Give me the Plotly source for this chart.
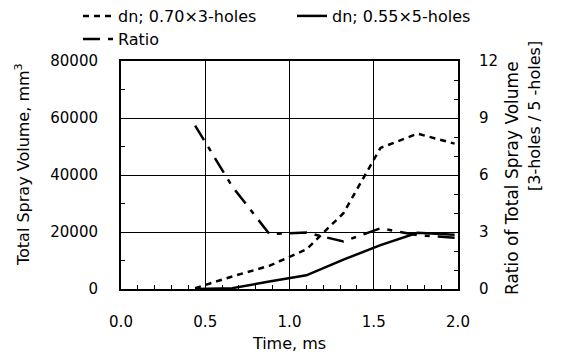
import plotly.graph_objects as go

time_ms = [0.44, 0.66, 0.88, 1.10, 1.32, 1.54, 1.76, 1.98]
vol_3holes = [300, 4400, 8150, 13900, 26600, 49500, 54500, 51000]
vol_5holes = [0, 300, 2600, 4800, 10300, 15400, 19700, 19000]
ratio = [8.6, 5.4, 2.9, 2.97, 2.5, 3.2, 2.83, 2.7]

name_3 = "dn; 0.70×3-holes"
name_5 = "dn; 0.55×5-holes"
name_r = "Ratio"

FONT = "DejaVu Sans"
L, R, T, B = 121, 104, 61, 69
W, H = 562, 358
PW, PH = W - L - R, H - T - B


def px_x(px):
    return (px - L) / PW


def px_y(py):
    return (H - B - py) / PH


def cx(px):
    return px / W


def cy(py):
    return 1 - py / H


fig = go.Figure()
fig.add_trace(go.Scatter(x=time_ms, y=vol_3holes, name=name_3, mode="lines",
                         line=dict(color="black", width=2.5, dash="6px,5px"),
                         legend="legend"))
fig.add_trace(go.Scatter(x=time_ms, y=vol_5holes, name=name_5, mode="lines",
                         line=dict(color="black", width=2.5),
                         legend="legend2"))
fig.add_trace(go.Scatter(x=time_ms, y=ratio, name=name_r, mode="lines", yaxis="y2",
                         line=dict(color="black", width=2.5, dash="17px,8px,5px,8px"),
                         legend="legend3"))

legend_common = dict(font=dict(family=FONT, size=16, color="black"),
                     bgcolor="rgba(0,0,0,0)", xanchor="left", yanchor="middle",
                     orientation="h", xref="container", yref="container")

fig.update_layout(
    width=W, height=H,
    margin=dict(l=L, r=R, t=T, b=B, pad=0, autoexpand=False),
    paper_bgcolor="white", plot_bgcolor="white",
    font=dict(family=FONT, size=15, color="black"),
    showlegend=True,
    legend=dict(x=cx(78), y=cy(16), **legend_common),
    legend2=dict(x=cx(292), y=cy(16), **legend_common),
    legend3=dict(x=cx(78), y=cy(39), **legend_common),
    xaxis=dict(range=[0, 2], dtick=0.5, tickformat=".1f",
               showgrid=True, gridcolor="black", gridwidth=1,
               showline=True, linecolor="black", linewidth=2, mirror=True,
               ticks="", ticklabelstandoff=18, zeroline=False,
               tickfont=dict(family=FONT, size=15),
               minor=dict(dtick=0.1, ticks="inside", ticklen=4, tickwidth=1,
                          tickcolor="black", showgrid=False),
               title=dict(text="Time, ms", font=dict(family=FONT, size=16), standoff=8)),
    yaxis=dict(range=[0, 80000], dtick=20000, tickformat="d",
               showgrid=True, gridcolor="black", gridwidth=1,
               showline=True, linecolor="black", linewidth=2, mirror=True,
               ticks="", ticklabelstandoff=18, zeroline=False,
               tickfont=dict(family=FONT, size=15),
               minor=dict(dtick=10000, ticks="inside", ticklen=4, tickwidth=1,
                          tickcolor="black", showgrid=False)),
    yaxis2=dict(range=[0, 12], dtick=3, overlaying="y", side="right",
                showgrid=False, showline=True, linecolor="black", linewidth=2,
                ticks="", ticklabelstandoff=16, zeroline=False,
                tickfont=dict(family=FONT, size=15),
                minor=dict(dtick=1, ticks="inside", ticklen=4, tickwidth=1,
                           tickcolor="black", showgrid=False)),
    annotations=[
        dict(text="Total Spray Volume, mm<sup>3</sup>", xref="paper", yref="paper",
             x=px_x(22), y=px_y(165), textangle=-90, showarrow=False,
             xanchor="center", yanchor="middle",
             font=dict(family=FONT, size=16, color="black")),
        dict(text="Ratio of Total Spray Volume", xref="paper", yref="paper",
             x=px_x(512), y=px_y(178), textangle=-90, showarrow=False,
             xanchor="center", yanchor="middle",
             font=dict(family=FONT, size=17, color="black")),
        dict(text="[3-holes / 5 -holes]", xref="paper", yref="paper",
             x=px_x(534), y=px_y(116), textangle=-90, showarrow=False,
             xanchor="center", yanchor="middle",
             font=dict(family=FONT, size=16, color="black")),
    ],
)

fig.write_html(
    "out.html",
    config={"displayModeBar": False},
    post_script="document.body.style.margin='0';document.body.style.padding='0';"
                "document.body.style.overflow='hidden';",
)
